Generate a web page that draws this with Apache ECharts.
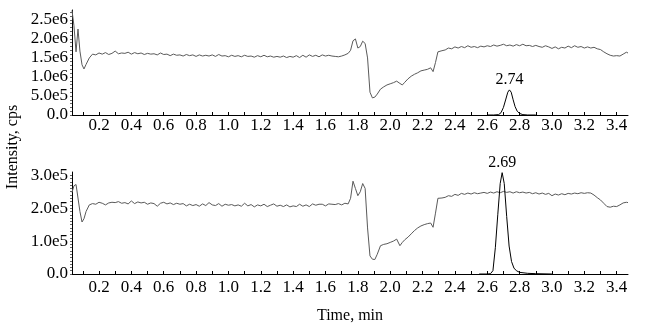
<!DOCTYPE html>
<html><head><meta charset="utf-8">
<script src="https://cdn.jsdelivr.net/npm/echarts@6/dist/echarts.min.js"></script>
<style>html,body{margin:0;padding:0;background:#fff}#c{width:645px;height:335px}</style>
</head><body><div id="c"></div>
<script>
// Time points (min) for total-ion traces
const ticTime = [0.033,0.045,0.058,0.07,0.082,0.095,0.107,0.12,0.14,
0.16,0.18,0.20,0.22,0.24,0.26,0.28,0.30,0.32,0.34,0.36,0.38,0.40,0.42,0.44,0.46,0.48,0.50,0.52,0.54,0.56,0.58,0.60,0.62,0.64,0.66,0.68,0.70,0.72,0.74,0.76,0.78,0.80,0.82,0.84,0.86,0.88,0.90,0.92,0.94,0.96,0.98,1.00,1.02,1.04,1.06,1.08,1.10,1.12,1.14,1.16,1.18,1.20,1.22,1.24,1.26,1.28,1.30,1.32,1.34,1.36,1.38,1.40,1.42,1.44,1.46,1.48,1.50,1.52,1.54,1.56,1.58,1.60,1.62,1.64,1.66,1.68,1.70,1.72,
1.74,1.755,1.77,1.785,1.80,1.815,1.83,1.845,1.86,1.875,1.89,1.905,1.92,1.94,1.96,1.98,2.00,2.02,2.04,2.06,2.075,2.09,2.11,2.13,2.15,2.17,2.19,2.21,2.23,2.25,2.265,2.28,2.295,
2.32,2.34,2.36,2.38,2.40,2.42,2.44,2.46,2.48,2.50,2.52,2.54,2.56,2.58,2.60,2.62,2.64,2.66,2.68,2.70,2.72,2.74,2.76,2.78,2.80,2.82,2.84,2.86,2.88,2.90,2.92,2.94,2.96,2.98,3.00,3.02,3.04,3.06,3.08,3.10,3.12,3.14,3.16,3.18,3.20,3.22,3.24,3.26,3.28,3.30,3.32,3.34,3.36,3.38,3.40,3.42,3.44,3.46,3.47];

// Upper panel TIC (x 1e6 cps)
const ticTop = [2.75,2.35,1.66,2.26,1.68,1.32,1.21,1.33,1.5,
1.6,1.58,1.63,1.6,1.64,1.59,1.62,1.68,1.61,1.63,1.62,1.65,1.6,1.64,1.61,1.63,1.59,1.62,1.6,1.61,1.58,1.63,1.59,1.6,1.56,1.6,1.57,1.58,1.55,1.59,1.56,1.58,1.54,1.58,1.55,1.57,1.55,1.58,1.54,1.59,1.55,1.56,1.53,1.57,1.54,1.56,1.53,1.57,1.54,1.55,1.52,1.56,1.53,1.57,1.53,1.55,1.52,1.54,1.52,1.55,1.51,1.54,1.52,1.56,1.51,1.57,1.52,1.58,1.54,1.57,1.53,1.58,1.55,1.57,1.55,1.54,1.53,1.55,1.58,
1.62,1.7,1.95,2.0,1.76,1.8,1.94,1.88,1.5,0.6,0.45,0.47,0.55,0.68,0.74,0.79,0.82,0.85,0.89,0.83,0.79,0.86,0.95,1.02,1.07,1.11,1.16,1.18,1.2,1.24,1.14,1.38,1.66,
1.69,1.71,1.76,1.74,1.79,1.76,1.8,1.77,1.82,1.78,1.8,1.77,1.81,1.79,1.82,1.8,1.84,1.81,1.83,1.86,1.82,1.84,1.81,1.85,1.82,1.86,1.82,1.83,1.8,1.83,1.8,1.78,1.82,1.79,1.75,1.79,1.74,1.78,1.76,1.81,1.77,1.82,1.78,1.8,1.76,1.79,1.76,1.78,1.74,1.72,1.66,1.61,1.57,1.55,1.56,1.55,1.6,1.65,1.63];

// Lower panel TIC (x 1e5 cps)
const ticBottom = [2.48,2.68,2.72,2.66,1.9,1.58,1.68,1.9,2.1,
2.14,2.12,2.18,2.15,2.1,2.16,2.18,2.17,2.2,2.15,2.17,2.13,2.22,2.14,2.19,2.16,2.18,2.12,2.16,2.14,2.06,2.15,2.18,2.13,2.16,2.11,2.15,2.12,2.14,2.07,2.12,2.08,2.11,2.06,2.13,2.08,2.17,2.1,2.08,2.14,2.06,2.12,2.09,2.11,2.07,2.1,2.06,2.15,2.07,2.11,2.04,2.1,2.07,2.12,2.05,2.09,2.13,2.06,2.09,2.05,2.1,2.04,2.07,2.05,2.12,2.06,2.1,2.05,2.13,2.09,2.12,2.12,2.07,2.13,2.12,2.11,2.14,2.1,2.15,
2.13,2.3,2.82,2.6,2.38,2.5,2.75,2.6,1.4,0.55,0.45,0.44,0.6,0.86,0.9,0.92,0.96,1.0,1.06,0.86,0.96,1.04,1.12,1.22,1.32,1.4,1.46,1.5,1.53,1.55,1.42,1.85,2.3,
2.31,2.33,2.38,2.36,2.42,2.39,2.45,2.42,2.46,2.43,2.47,2.44,2.46,2.48,2.45,2.49,2.46,2.5,2.47,2.51,2.48,2.5,2.46,2.5,2.47,2.49,2.46,2.48,2.44,2.47,2.43,2.46,2.42,2.45,2.38,2.43,2.4,2.44,2.41,2.45,2.43,2.46,2.44,2.47,2.45,2.47,2.46,2.4,2.32,2.25,2.15,2.05,2.03,2.06,2.05,2.1,2.16,2.18,2.17];

// Upper panel analyte peak (x 1e6 cps)
const peakTopTime = [2.60,2.64,2.67,2.685,2.70,2.715,2.727,2.737,2.748,2.76,2.772,2.785,2.80,2.82,2.85,2.90];
const peakTopVal  = [0,0,0.01,0.06,0.2,0.42,0.6,0.66,0.6,0.4,0.22,0.1,0.04,0.01,0,0];
const peakTopLabel = '2.74';

// Lower panel analyte peak (x 1e5 cps)
const peakBottomTime = [2.55,2.60,2.62,2.635,2.65,2.665,2.68,2.692,2.705,2.72,2.735,2.75,2.765,2.78,2.80,2.85,2.90,3.00];
const peakBottomVal  = [0,0,0.01,0.1,0.8,1.8,2.75,3.08,2.75,1.75,0.85,0.38,0.18,0.1,0.05,0.02,0.01,0];
const peakBottomLabel = '2.69';

// Tick labels
const xLabels = [0.2,0.4,0.6,0.8,1.0,1.2,1.4,1.6,1.8,2.0,2.2,2.4,2.6,2.8,3.0,3.2,3.4];
const xTicks = [0.1,0.2,0.3,0.4,0.5,0.6,0.7,0.8,0.9,1.0,1.1,1.2,1.3,1.4,1.5,1.6,1.7,1.8,1.9,2.0,2.1,2.2,2.3,2.4,2.5,2.6,2.7,2.8,2.9,3.0,3.1,3.2,3.3,3.4];
const yTopLabels = [0,5e5,1e6,1.5e6,2e6,2.5e6];
const yTopTicks = [0,1e5,2e5,3e5,4e5,5e5,6e5,7e5,8e5,9e5,1e6,1.1e6,1.2e6,1.3e6,1.4e6,1.5e6,1.6e6,1.7e6,1.8e6,1.9e6,2e6,2.1e6,2.2e6,2.3e6,2.4e6,2.5e6,2.6e6,2.7e6];
const yBottomLabels = [0,1e5,2e5,3e5];
const yBottomTicks = [0,1e4,2e4,3e4,4e4,5e4,6e4,7e4,8e4,9e4,1e5,1.1e5,1.2e5,1.3e5,1.4e5,1.5e5,1.6e5,1.7e5,1.8e5,1.9e5,2e5,2.1e5,2.2e5,2.3e5,2.4e5,2.5e5,2.6e5,2.7e5,2.8e5,2.9e5,3e5];

const FONT = '"Liberation Serif", "Times New Roman", serif';
function sci(v){
  if (v === 0) return '0.0';
  const e = Math.floor(Math.log10(v) + 1e-9);
  return (v / Math.pow(10, e)).toFixed(1) + 'e' + e;
}
function pairs(t, v, s){ return t.map((x,i)=>[x, v[i]*s]); }
function apexIdx(v){ let m=0; v.forEach((y,i)=>{ if (y>v[m]) m=i; }); return m; }

const xMin = 0.033, xMax = 3.47;
function xAxis(gi, margin){
  return {
    type:'value', gridIndex:gi, min:xMin, max:xMax,
    axisLine:{show:true, onZero:false, lineStyle:{color:'#000', width:1}},
    axisTick:{show:true, inside:true, length:3, customValues:xTicks, lineStyle:{color:'#000'}},
    axisLabel:{customValues:xLabels, formatter:v=>v.toFixed(1), color:'#000', fontFamily:FONT, fontSize:17, margin:margin},
    splitLine:{show:false}
  };
}
function yAxis(gi, max, labels, ticks){
  return {
    type:'value', gridIndex:gi, min:0, max:max,
    axisLine:{show:true, lineStyle:{color:'#000', width:1}},
    axisTick:{show:true, length:2, customValues:ticks, lineStyle:{color:'#666'}},
    axisLabel:{customValues:labels, formatter:sci, color:'#000', fontFamily:FONT, fontSize:17, margin:4},
    splitLine:{show:false}
  };
}

const iTop = apexIdx(peakTopVal), iBot = apexIdx(peakBottomVal);
const option = {
  animation:false,
  backgroundColor:'#fff',
  grid:[
    {left:72, right:17, top:10, height:105},
    {left:72, right:17, top:172, height:102}
  ],
  xAxis:[xAxis(0,2), xAxis(1,5)],
  yAxis:[yAxis(0,2.76e6,yTopLabels,yTopTicks), yAxis(1,3.1e5,yBottomLabels,yBottomTicks)],
  series:[
    {type:'line', xAxisIndex:0, yAxisIndex:0, data:pairs(ticTime,ticTop,1e6), showSymbol:false, symbol:'none',
     lineStyle:{color:'#5a5a5a', width:1}},
    {type:'line', xAxisIndex:0, yAxisIndex:0, data:pairs(peakTopTime,peakTopVal,1e6), showSymbol:false, symbol:'none',
     lineStyle:{color:'#000', width:1},
     markPoint:{symbol:'circle', symbolSize:0, data:[{coord:[peakTopTime[iTop], peakTopVal[iTop]*1e6],
       label:{show:true, position:'top', distance:2, formatter:peakTopLabel, color:'#000', fontFamily:FONT, fontSize:16}}]}},
    {type:'line', xAxisIndex:1, yAxisIndex:1, data:pairs(ticTime,ticBottom,1e5), showSymbol:false, symbol:'none',
     lineStyle:{color:'#5a5a5a', width:1}},
    {type:'line', xAxisIndex:1, yAxisIndex:1, data:pairs(peakBottomTime,peakBottomVal,1e5), showSymbol:false, symbol:'none',
     lineStyle:{color:'#000', width:1},
     markPoint:{symbol:'circle', symbolSize:0, data:[{coord:[peakBottomTime[iBot], peakBottomVal[iBot]*1e5],
       label:{show:true, position:'top', distance:2, formatter:peakBottomLabel, color:'#000', fontFamily:FONT, fontSize:16}}]}}
  ],
  graphic:[
    {type:'text', x:13, y:147, rotation:Math.PI/2, style:{text:'Intensity, cps', font:'16px '+FONT, fill:'#000', align:'center', verticalAlign:'middle'}},
    {type:'text', x:350, y:316, style:{text:'Time, min', font:'16px '+FONT, fill:'#000', align:'center', verticalAlign:'middle'}}
  ]
};
const chart = echarts.init(document.getElementById('c'), null, {renderer:'canvas'});
chart.setOption(option);
</script>
</body></html>
